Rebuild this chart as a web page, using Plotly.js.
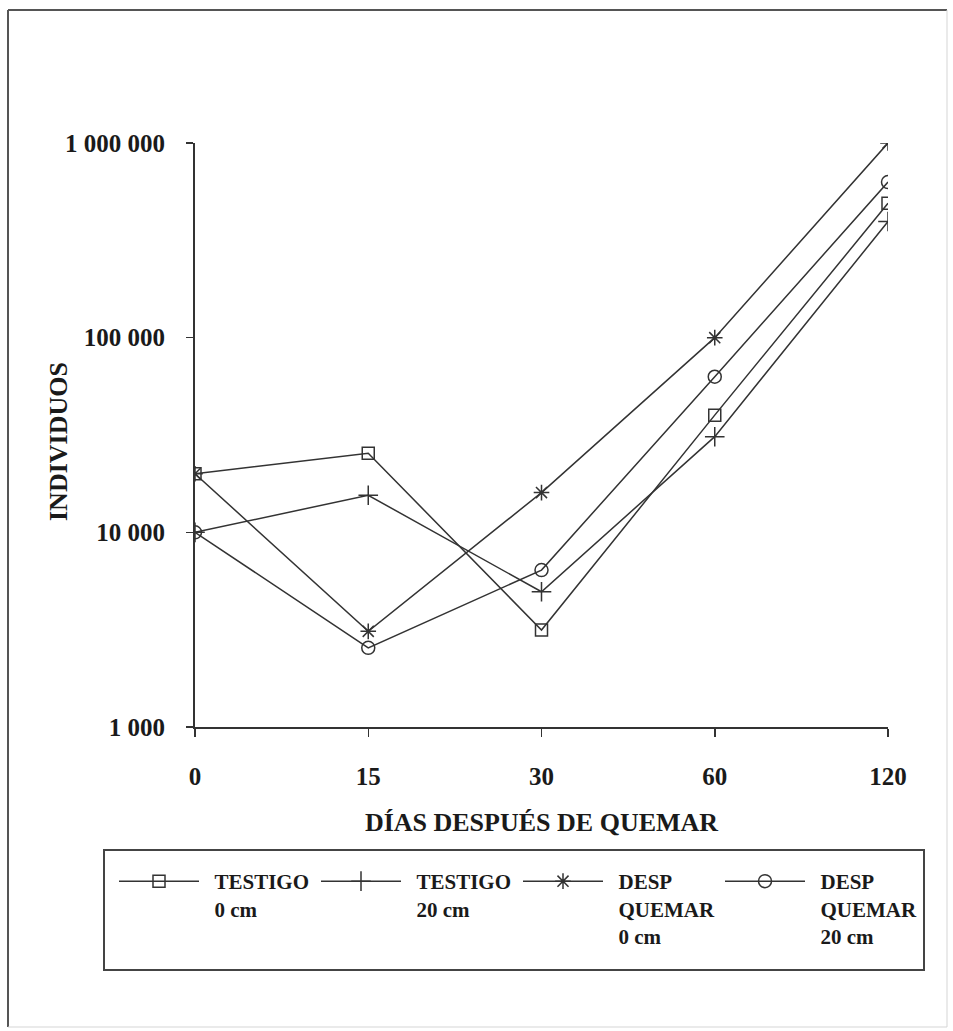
<!DOCTYPE html>
<html>
<head>
<meta charset="utf-8">
<script src="https://cdn.plot.ly/plotly-3.0.1.min.js"></script>
<style>html,body{margin:0;padding:0;background:#fff;}#chart{width:953px;height:1031px;}</style>
</head>
<body>
<div id="chart"></div>
<script>
var days = ['0', '15', '30', '60', '120'];
var testigo0 = [20000, 25500, 3150, 40000, 490000];
var testigo20 = [10000, 15500, 4950, 31000, 395000];
var desp0 = [20000, 3100, 16000, 100000, 1000000];
var desp20 = [10000, 2550, 6400, 63000, 630000];
var yTickVals = [1000, 10000, 100000, 1000000];
var yTickText = ['1 000', '10 000', '100 000', '1 000 000'];
var seriesLines = [['TESTIGO', '0 cm'], ['TESTIGO', '20 cm'], ['DESP', 'QUEMAR', '0 cm'], ['DESP', 'QUEMAR', '20 cm']];
var xTitle = 'DÍAS DESPUÉS DE QUEMAR';
var yTitle = 'INDIVIDUOS';

var W = 953, H = 1031;
var M = {l: 195, r: 65, t: 143, b: 304};
var pw = W - M.l - M.r, ph = H - M.t - M.b;
function px(x) { return (x - M.l) / pw; }
function py(y) { return (H - M.b - y) / ph; }

var ink = '#333333';
var font = {family: 'Liberation Serif, Times New Roman, serif', color: '#1a1a1a', weight: 'bold'};
function f(size) { return Object.assign({}, font, {size: size}); }

var symbols = ['square-open', 'cross-thin-open', 'asterisk-open', 'circle-open'];
var sizes = [12, 14, 13, 13];
var vals = [testigo0, testigo20, desp0, desp20];
var pad = '\u00a0\u00a0';

var traces = vals.map(function (v, i) {
  return {
    x: days, y: v, type: 'scatter', mode: 'lines+markers',
    name: seriesLines[i].map(function (s) { return pad + s; }).join('<br>'),
    line: {color: ink, width: 1.5},
    marker: {symbol: symbols[i], size: sizes[i], color: ink, line: {color: ink, width: 1.5}}
  };
});

var layout = {
  width: W, height: H,
  margin: M,
  paper_bgcolor: '#ffffff', plot_bgcolor: '#ffffff',
  showlegend: true,
  legend: {
    orientation: 'h', x: px(114), y: py(861), xanchor: 'left', yanchor: 'top',
    font: f(21), valign: 'top', itemwidth: 80, entrywidth: 107,
    bgcolor: 'rgba(0,0,0,0)', borderwidth: 0, traceorder: 'normal'
  },
  xaxis: {
    type: 'category', range: [0, 4],
    showline: true, linecolor: ink, linewidth: 2,
    ticks: 'outside', ticklen: 8, tickwidth: 1.5, tickcolor: ink,
    showgrid: false, zeroline: false,
    tickfont: f(25), ticklabelstandoff: 18,
    title: {text: xTitle, font: f(26), standoff: 24}
  },
  yaxis: {
    type: 'log', range: [3, 6],
    tickvals: yTickVals, ticktext: yTickText,
    showline: true, linecolor: ink, linewidth: 2,
    ticks: 'outside', ticklen: 7, tickwidth: 1.5, tickcolor: ink,
    showgrid: false, zeroline: false,
    tickfont: f(25), ticklabelstandoff: 16
  },
  xaxis2: {
    overlaying: 'x', anchor: 'y', range: [0, 4], type: 'linear',
    tickvals: [0, 1, 2, 3, 4], showticklabels: false,
    ticks: 'inside', ticklen: 9, tickwidth: 1.5, tickcolor: ink,
    showline: false, showgrid: false, zeroline: false
  },
  yaxis2: {
    overlaying: 'y', anchor: 'x', type: 'log', range: [3, 6],
    tickvals: yTickVals, showticklabels: false,
    ticks: 'inside', ticklen: 8, tickwidth: 1.5, tickcolor: ink,
    showline: false, showgrid: false, zeroline: false
  },
  annotations: [
    {text: yTitle, textangle: -90, xref: 'paper', yref: 'paper', x: px(58), y: py(442),
     xanchor: 'center', yanchor: 'middle', showarrow: false, font: f(26)}
  ],
  shapes: [
    {type: 'rect', xref: 'paper', yref: 'paper', x0: px(104), x1: px(924), y0: py(850), y1: py(970),
     line: {color: '#444', width: 2}, fillcolor: 'rgba(0,0,0,0)'},
    {type: 'line', xref: 'paper', yref: 'paper', x0: px(8), x1: px(947), y0: py(10), y1: py(10), line: {color: '#555', width: 2}},
    {type: 'line', xref: 'paper', yref: 'paper', x0: px(8), x1: px(8), y0: py(10), y1: py(1027), line: {color: '#555', width: 2}},
    {type: 'line', xref: 'paper', yref: 'paper', x0: px(947), x1: px(947), y0: py(10), y1: py(1027), line: {color: '#d5d5d5', width: 1}},
    {type: 'line', xref: 'paper', yref: 'paper', x0: px(8), x1: px(947), y0: py(1027), y1: py(1027), line: {color: '#d5d5d5', width: 1}}
  ]
};

Plotly.newPlot('chart', traces, layout, {displayModeBar: false, staticPlot: true});
</script>
</body>
</html>
